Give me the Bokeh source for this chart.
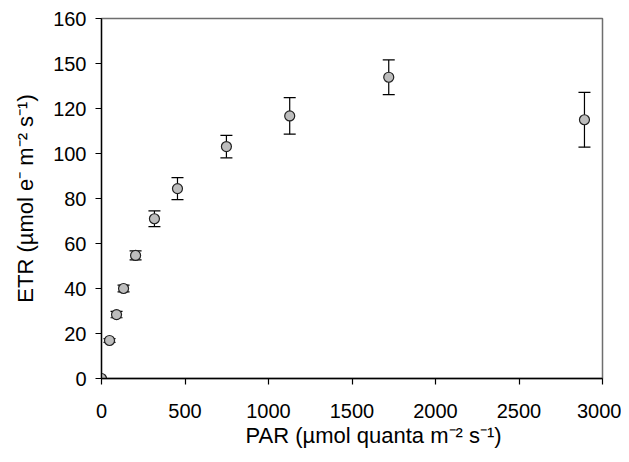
from bokeh.plotting import figure
from bokeh.models import ColumnDataSource, Whisker, TeeHead, FixedTicker, Range1d, Title
from bokeh.embed import file_html
from bokeh.resources import INLINE

# Data
par = [0, 48, 90, 132, 204, 317, 455, 748, 1127, 1720, 2892]
etr = [0.0, 16.9, 28.4, 40.0, 54.7, 71.0, 84.4, 103.1, 116.7, 133.9, 115.0]
err = [0.0, 0.8, 1.4, 1.5, 2.0, 3.5, 4.9, 5.0, 8.1, 7.7, 12.2]

y_ticks = [0, 20, 40, 60, 80, 100, 120, 140, 160]
y_tick_labels = ["0", "20", "40", "60", "80", "100", "120", "150", "160"]
x_ticks = [0, 500, 1000, 1500, 2000, 2500, 3000]
x_title = "PAR (µmol quanta m\u207b\u00b2 s\u207b\u00b9)"
y_title = "ETR (µmol e\u207b m\u207b\u00b2 s\u207b\u00b9)"

src = ColumnDataSource(dict(
    x=par, y=etr,
    upper=[v + e for v, e in zip(etr, err)],
    lower=[v - e for v, e in zip(etr, err)],
))

FONT = "Liberation Sans"

p = figure(width=621, height=454, output_backend="svg", toolbar_location=None,
           x_range=Range1d(0, 3000), y_range=Range1d(0, 160),
           min_border_left=101, min_border_right=19, min_border_top=18, min_border_bottom=76)

p.xgrid.visible = False
p.ygrid.visible = False
p.background_fill_color = "white"
p.border_fill_color = "white"
p.outline_line_color = "#6e6e6e"
p.outline_line_width = 1.5

for ax in (p.xaxis[0], p.yaxis[0]):
    ax.axis_line_color = "black"
    ax.axis_line_width = 1.3
    ax.major_tick_line_color = "black"
    ax.major_tick_line_width = 1.2
    ax.major_tick_out = 6
    ax.major_tick_in = 0
    ax.minor_tick_line_color = None
    ax.major_label_text_font = FONT
    ax.major_label_text_font_size = "20px"
    ax.major_label_text_color = "black"
    ax.axis_label_text_font = FONT
    ax.axis_label_text_font_size = "22px"
    ax.axis_label_text_font_style = "normal"
    ax.axis_label_text_color = "black"

p.xaxis.ticker = FixedTicker(ticks=x_ticks)
p.yaxis.ticker = FixedTicker(ticks=y_ticks)
p.yaxis.major_label_overrides = {t: l for t, l in zip(y_ticks, y_tick_labels)}
p.xaxis.major_label_standoff = 19
p.yaxis.major_label_standoff = 9
p.yaxis.axis_label = y_title
p.yaxis.axis_label_standoff = 12

# x-axis title sits right of the frame centre in the reference
p.add_layout(Title(text=x_title, align="left", offset=144, standoff=0,
                   text_font=FONT, text_font_size="22px", text_font_style="normal",
                   text_color="black"), "below")

whisk = Whisker(source=src, base="x", upper="upper", lower="lower",
                line_color="black", line_width=1.2,
                upper_head=TeeHead(size=12, line_color="black", line_width=1.2),
                lower_head=TeeHead(size=12, line_color="black", line_width=1.2))
p.add_layout(whisk)

p.scatter("x", "y", source=src, size=10, fill_color="#bdbdbd",
          line_color="#222222", line_width=1.2)

open("out.html", "w").write(file_html(p, INLINE))
